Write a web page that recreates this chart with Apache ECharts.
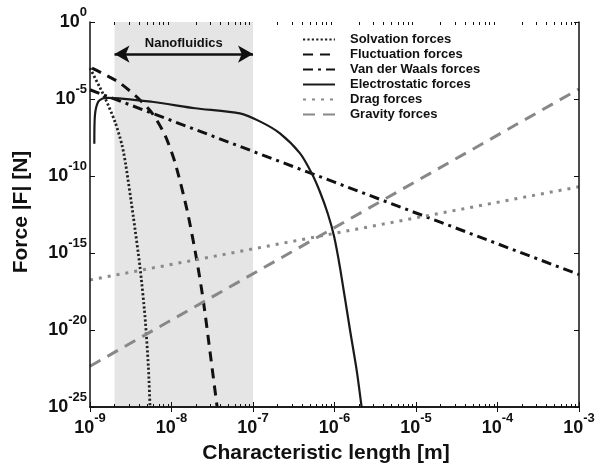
<!DOCTYPE html>
<html>
<head>
<meta charset="utf-8">
<script src="https://cdn.jsdelivr.net/npm/echarts@6/dist/echarts.min.js"></script>
<style>html,body{margin:0;padding:0;background:#fff}#c{width:598px;height:469px}</style>
</head>
<body>
<div id="c"></div>
<script>
// ---- data (x in m, y in N) ----
const solvationX = [1.0e-9, 1.53e-9, 2.03e-9, 2.47e-9, 2.75e-9, 3.40e-9, 4.10e-9, 4.73e-9, 5.20e-9, 5.45e-9];
const solvationY = [1.02e-3, 1.15e-5, 3.24e-7, 1.02e-8, 5.1e-10, 2.29e-13, 1.29e-16, 7.2e-20, 4.17e-23, 1e-25];

const fluctuationX = [1.06e-9, 2.21e-9, 3.88e-9, 5.77e-9, 8.3e-9, 1.10e-8, 1.55e-8, 2.04e-8, 2.45e-8, 2.95e-8, 3.63e-8];
const fluctuationY = [1e-3, 1.32e-4, 1.15e-5, 1.23e-6, 4.57e-8, 8.1e-10, 6.3e-13, 3.55e-16, 8.9e-19, 5.0e-22, 1e-25];

const vdwX = [1e-9, 1e-6, 1e-3];
const vdwY = [3.98e-5, 3.98e-11, 3.98e-17];

const electroX = [1.13e-9, 1.15e-9, 1.26e-9, 1.45e-9, 1.66e-9, 5.75e-9, 1.95e-8, 6.9e-8, 1.23e-7, 2.14e-7, 3.78e-7, 5.25e-7, 6.64e-7, 8.3e-7, 9.86e-7, 1.17e-6, 1.55e-6, 1.87e-6, 2.15e-6];
const electroY = [1.26e-8, 9.1e-7, 6.6e-6, 1.12e-5, 1.20e-5, 6.6e-6, 2.51e-6, 1.17e-6, 3.4e-7, 5.9e-8, 2.95e-9, 1.5e-10, 9.1e-12, 3.4e-13, 1.26e-14, 1.07e-16, 1e-20, 2.5e-23, 1e-25];

const dragX = [1e-9, 1e-3];
const dragY = [1.78e-17, 2.0e-11];

const gravityX = [1e-9, 1e-3];
const gravityY = [4.47e-23, 4.47e-5];

const seriesNames = ['Solvation forces', 'Fluctuation forces', 'Van der Waals forces', 'Electrostatic forces', 'Drag forces', 'Gravity forces'];

// annotation
const bandRange = [2e-9, 1e-7];
const arrowY = 8.3e-3;
const bandLabel = 'Nanofluidics';

// axes
const xTickValues = [1e-9, 1e-8, 1e-7, 1e-6, 1e-5, 1e-4, 1e-3];
const yTickValues = [1e-25, 1e-20, 1e-15, 1e-10, 1e-5, 1];
const xName = 'Characteristic length [m]';
const yName = 'Force |F| [N]';

const xMinorTicks = [];
for (let d = -9; d < -3; d++) {
  for (let m = 2; m <= 9; m++) xMinorTicks.push(m * Math.pow(10, d));
}

function zip(xs, ys) { return xs.map((x, i) => [x, ys[i]]); }

const expLabel = v => {
  const e = Math.round(Math.log10(v));
  return '{b|10}{e|' + e + '}';
};
const richStyle = {
  b: { fontSize: 18, fontWeight: 'bold', color: '#111', fontFamily: 'Liberation Sans, Arial' },
  e: { fontSize: 13, fontWeight: 'bold', color: '#111', fontFamily: 'Liberation Sans, Arial', padding: [0, 0, 20, 0] }
};

const GRID = { left: 90, top: 22, right: 19, bottom: 62 };
const axisLine = { show: true, lineStyle: { color: '#111', width: 1.5 } };

const chart = echarts.init(document.getElementById('c'), null, { renderer: 'canvas' });

const baseLine = (name, xs, ys, color, width, type, smooth) => ({
  name, type: 'line', xAxisIndex: 0, yAxisIndex: 0,
  data: zip(xs, ys), showSymbol: false, symbol: 'none', smooth: smooth,
  z: 3, clip: true,
  lineStyle: { color, width, type, cap: 'butt' },
  itemStyle: { color }
});

chart.setOption({
  animation: false,
  backgroundColor: '#fff',
  textStyle: { fontFamily: 'Liberation Sans, Arial' },
  grid: [Object.assign({}, GRID), Object.assign({}, GRID)],
  legend: {
    data: seriesNames, orient: 'vertical', left: 302, top: 33, padding: 0,
    itemWidth: 32, itemHeight: 14, itemGap: 2,
    itemStyle: { opacity: 0 },
    textStyle: { fontSize: 13, fontWeight: 'bold', color: '#111', padding: [0, 0, 0, 10] }
  },
  xAxis: [
    { type: 'log', gridIndex: 0, position: 'bottom', min: 1e-9, max: 1e-3, z: 5,
      axisLine, splitLine: { show: false },
      axisTick: { show: true, inside: true, length: 5, customValues: xTickValues, lineStyle: { color: '#111', width: 1 } },
      axisLabel: { show: true, customValues: xTickValues, formatter: expLabel, rich: richStyle, margin: 5 },
      name: xName, nameLocation: 'middle', nameGap: 36,
      nameTextStyle: { fontSize: 21, fontWeight: 'bold', color: '#111', padding: [0, 17, 0, 0] } },
    { type: 'log', gridIndex: 0, position: 'top', min: 1e-9, max: 1e-3, z: 5,
      axisLine, splitLine: { show: false },
      axisTick: { show: true, inside: true, length: 5, customValues: xTickValues, lineStyle: { color: '#111', width: 1 } },
      axisLabel: { show: false } },
    { type: 'log', gridIndex: 1, position: 'bottom', min: 1e-9, max: 1e-3, z: 5,
      axisLine: { show: false }, splitLine: { show: false },
      axisTick: { show: true, inside: true, length: 3, customValues: xMinorTicks, lineStyle: { color: '#111', width: 1 } },
      axisLabel: { show: false } },
    { type: 'log', gridIndex: 1, position: 'top', min: 1e-9, max: 1e-3, z: 5,
      axisLine: { show: false }, splitLine: { show: false },
      axisTick: { show: true, inside: true, length: 3, customValues: xMinorTicks, lineStyle: { color: '#111', width: 1 } },
      axisLabel: { show: false } }
  ],
  yAxis: [
    { type: 'log', gridIndex: 0, position: 'left', min: 1e-25, max: 1, z: 5,
      axisLine, splitLine: { show: false },
      axisTick: { show: true, inside: true, length: 5, customValues: yTickValues, lineStyle: { color: '#111', width: 1 } },
      axisLabel: { show: true, customValues: yTickValues, formatter: expLabel, rich: richStyle, margin: 3 },
      name: yName, nameLocation: 'middle', nameGap: 58, nameRotate: 90,
      nameTextStyle: { fontSize: 21, fontWeight: 'bold', color: '#111', padding: [0, 0, 0, 5] } },
    { type: 'log', gridIndex: 0, position: 'right', min: 1e-25, max: 1, z: 5,
      axisLine, splitLine: { show: false },
      axisTick: { show: true, inside: true, length: 5, customValues: yTickValues, lineStyle: { color: '#111', width: 1 } },
      axisLabel: { show: false } },
    { type: 'value', gridIndex: 1, show: false }
  ],
  series: [
    { name: 'band', type: 'line', xAxisIndex: 0, yAxisIndex: 0, data: [], z: 1,
      markArea: { silent: true, itemStyle: { color: '#e5e5e5' },
        data: [[{ xAxis: bandRange[0] }, { xAxis: bandRange[1] }]] },
      markLine: { silent: true, symbol: ['arrow', 'arrow'], symbolSize: [13, 15],
        lineStyle: { color: '#111', width: 2.5, type: 'solid' },
        label: { show: true, formatter: bandLabel, position: 'insideMiddleTop', distance: 4,
          fontSize: 13, fontWeight: 'bold', color: '#111' },
        data: [[{ coord: [bandRange[0], arrowY] }, { coord: [bandRange[1], arrowY] }]] } },
    baseLine(seriesNames[0], solvationX, solvationY, '#222', 2.8, [2.2, 2.2], 0.25),
    baseLine(seriesNames[1], fluctuationX, fluctuationY, '#111', 3, [10, 7], 0.25),
    baseLine(seriesNames[2], vdwX, vdwY, '#111', 3, [10, 5, 3, 5], false),
    baseLine(seriesNames[3], electroX, electroY, '#1a1a1a', 2.2, 'solid', 0.25),
    baseLine(seriesNames[4], dragX, dragY, '#8a8a8a', 3, [3, 6], false),
    baseLine(seriesNames[5], gravityX, gravityY, '#888', 3, [12, 8], false)
  ]
});
</script>
</body>
</html>
